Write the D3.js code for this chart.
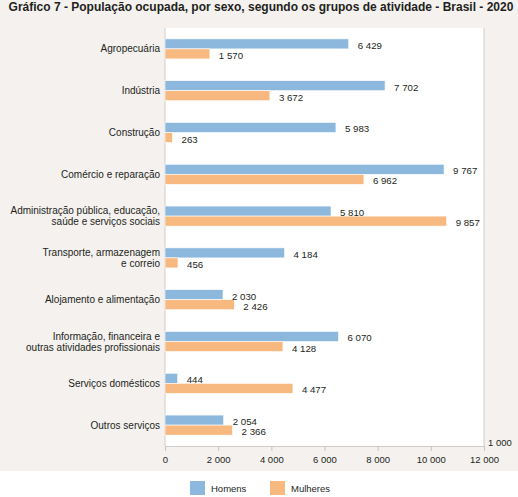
<!DOCTYPE html>
<html>
<head>
<meta charset="utf-8">
<script src="https://cdn.jsdelivr.net/npm/d3@7"></script>
<style>
  body { margin: 0; background: #fff; }
  text { font-family: "Liberation Sans", Arial, sans-serif; fill: #231f20; }
</style>
</head>
<body>
<div id="chart"></div>
<script>
// Data -------------------------------------------------
const categories = [
  "Agropecuária",
  "Indústria",
  "Construção",
  "Comércio e reparação",
  "Administração pública, educação,|saúde e serviços sociais",
  "Transporte, armazenagem|e correio",
  "Alojamento e alimentação",
  "Informação, financeira e|outras atividades profissionais",
  "Serviços domésticos",
  "Outros serviços"
]
const homens = [6429, 7702, 5983, 9767, 5810, 4184, 2030, 6070, 444, 2054]
const mulheres = [1570, 3672, 263, 6962, 9857, 456, 2426, 4128, 4477, 2366]
const series = ["Homens", "Mulheres"]
const xTicks = [0, 2000, 4000, 6000, 8000, 10000, 12000]

const COLORS = {Homens: "#8cb8de", Mulheres: "#f8b981"}

// Canvas setup -----------------------------------------
const W = 518, H = 497
const PLOT = {LEFT: 165, RIGHT: 484, TOP: 28, BOTTOM: 446}

const fmt = v => d3.format(",")(v).replace(/,/g, " ")

const svg = d3.select("#chart").append("svg")
  .attr("width", W)
  .attr("height", H)

// beige background + white plot
svg.append("rect")
  .attr("x", 0).attr("y", 0)
  .attr("width", W).attr("height", 471)
  .attr("fill", "#f4f1ef")

svg.append("rect")
  .attr("x", PLOT.LEFT).attr("y", PLOT.TOP)
  .attr("width", PLOT.RIGHT - PLOT.LEFT)
  .attr("height", PLOT.BOTTOM - PLOT.TOP)
  .attr("fill", "#ffffff")

svg.append("text")
  .attr("x", 261).attr("y", 10.5)
  .attr("text-anchor", "middle")
  .attr("font-size", "12px")
  .attr("font-weight", "bold")
  .text("Gráfico 7 - População ocupada, por sexo, segundo os grupos de atividade - Brasil - 2020")

// Scales ------------------------------------------------
// axis scale (ticks)
const x = d3.scaleLinear()
  .domain([0, 12000])
  .range([PLOT.LEFT, PLOT.RIGHT])

// the bars in the original are drawn on a slightly different scale than the axis
const xBar = d3.scaleLinear()
  .domain([0, 11165])
  .range([PLOT.LEFT, PLOT.RIGHT])

const y = d3.scaleBand()
  .domain(categories)
  .range([PLOT.TOP, PLOT.BOTTOM])
  .paddingInner(0.52)
  .paddingOuter(0.26)

const ySub = d3.scaleBand()
  .domain(series)
  .range([0, y.bandwidth()])

// Axes --------------------------------------------------
const xAxis = d3.axisBottom(x)
  .tickValues(xTicks)
  .tickSize(5)
  .tickPadding(5)
  .tickFormat(fmt)

const gx = svg.append("g")
  .attr("transform", `translate(0,${PLOT.BOTTOM})`)
  .call(xAxis)
gx.select(".domain").attr("stroke", "#d0cdcb")
gx.selectAll(".tick line").attr("stroke", "#c8c5c3")
gx.selectAll(".tick text")
  .attr("font-size", "9.5px")
  .attr("font-family", "Liberation Sans, Arial, sans-serif")
  .attr("fill", "#231f20")

// left and right frame lines
svg.append("line")
  .attr("x1", PLOT.LEFT).attr("x2", PLOT.LEFT)
  .attr("y1", PLOT.TOP).attr("y2", PLOT.BOTTOM)
  .attr("stroke", "#d0cdcb")
svg.append("line")
  .attr("x1", PLOT.RIGHT).attr("x2", PLOT.RIGHT)
  .attr("y1", PLOT.TOP).attr("y2", PLOT.BOTTOM)
  .attr("stroke", "#d0cdcb")

// Category labels --------------------------------------
const catG = svg.append("g")
categories.forEach(c => {
  const lines = c.split("|")
  const cy = y(c) + y.bandwidth() / 2
  const t = catG.append("text")
    .attr("text-anchor", "end")
    .attr("font-size", "10px")
  lines.forEach((l, i) => {
    t.append("tspan")
      .attr("x", 160)
      .attr("y", cy + 3.5 + (i - (lines.length - 1) / 2) * 11)
      .text(l)
  })
})

// Bars --------------------------------------------------
const rows = categories.map((c, i) => ({c, Homens: homens[i], Mulheres: mulheres[i]}))

const groups = svg.append("g").selectAll("g")
  .data(rows)
  .join("g")
  .attr("transform", d => `translate(0,${y(d.c)})`)

groups.selectAll("rect")
  .data(d => series.map(s => ({s, v: d[s]})))
  .join("rect")
  .attr("x", xBar(0))
  .attr("y", d => ySub(d.s))
  .attr("width", d => xBar(d.v) - xBar(0))
  .attr("height", ySub.bandwidth())
  .attr("fill", d => COLORS[d.s])
  .attr("stroke", "#ffffff")
  .attr("stroke-width", 0.6)

groups.selectAll("text")
  .data(d => series.map(s => ({s, v: d[s]})))
  .join("text")
  .attr("x", d => xBar(d.v) + 9)
  .attr("y", d => ySub(d.s) + ySub.bandwidth() / 2 + 5)
  .attr("font-size", "9.7px")
  .text(d => fmt(d.v))

// stray label at bottom right
svg.append("text")
  .attr("x", 488).attr("y", 446)
  .attr("font-size", "9.5px")
  .text("1 000")

// Legend ------------------------------------------------
const leg = svg.append("g")
const legX = [190, 270]
series.forEach((s, i) => {
  leg.append("rect")
    .attr("x", legX[i]).attr("y", 481)
    .attr("width", 15).attr("height", 14)
    .attr("fill", COLORS[s])
  leg.append("text")
    .attr("x", legX[i] + 21).attr("y", 492)
    .attr("font-size", "9.5px")
    .text(s)
})
</script>
</body>
</html>
